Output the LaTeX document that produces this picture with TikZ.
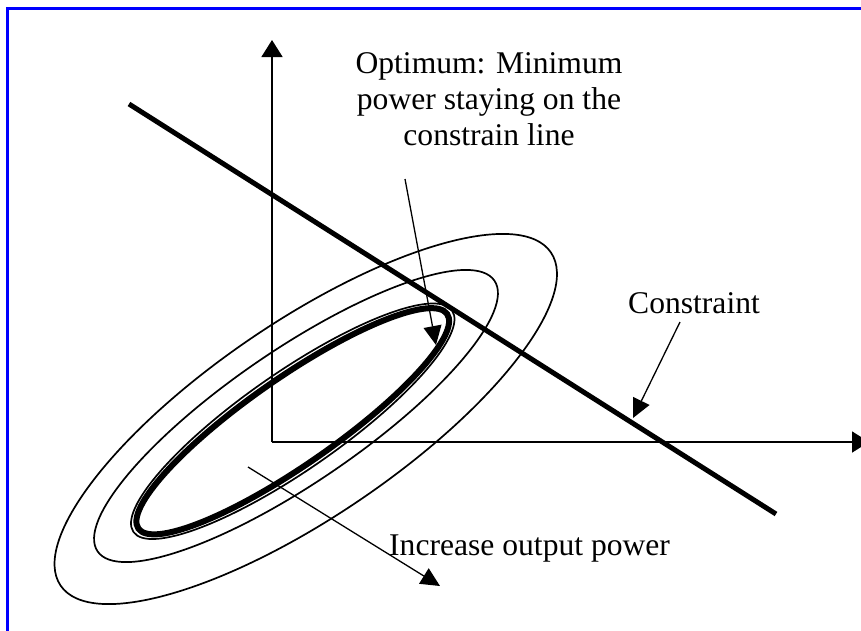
\documentclass[tikz,border=0pt]{standalone}
\usepackage{fontspec}
\setmainfont{Liberation Serif}
\usetikzlibrary{arrows.meta}
\begin{document}
\begin{tikzpicture}[x=1pt,y=-1pt,
  thinline/.style={line width=1.7pt},
  thickline/.style={line width=6pt},
  axis/.style={line width=1.7pt,-{Triangle[length=17pt,width=21pt]}},
  pointer/.style={line width=1.3pt,-{Triangle[length=19pt,width=18pt]}},
  lbl/.style={font=\fontsize{31.6}{36}\selectfont,inner sep=0pt}]
\useasboundingbox (0,0) rectangle (861,630);
\draw[blue, line width=2.2pt] (7.5,8.5) rectangle (900,700);

% level curves
\draw[thinline, rotate around={34.2:(305.75,419)}] (305.75,419) ellipse [x radius=296.4pt, y radius=97.4pt];
\draw[thinline, rotate around={34.3:(296,416)}] (296,416) ellipse [x radius=240.2pt, y radius=66.4pt];
\draw[thinline, rotate around={34.8:(292.75,421.25)}] (292.75,421.25) ellipse [x radius=194pt, y radius=48.8pt];
\draw[thickline, rotate around={34.8:(292.75,421.25)}] (292.75,421.25) ellipse [x radius=188pt, y radius=43.5pt];

% axes
\coordinate (O) at (272,442);
\coordinate (ytip) at (272,40);
\coordinate (xtip) at (869,442);
\draw[axis] (O) -- (ytip);
\draw[axis] (O) -- (xtip);

% constraint line
\coordinate (c1) at (129,104);
\coordinate (c2) at (776,514);
\draw[line width=5pt] (c1) -- (c2);

% labels
\node[lbl, align=center, anchor=base] (opt) at (489,145.5) {Optimum: Minimum\\power staying on the\\constrain line};
\node[lbl, anchor=base west] (con) at (628,313) {Constraint};
\node[lbl, anchor=base west] (inc) at (389,555) {Increase output power};

% pointers
\coordinate (optstart) at (405,179);
\coordinate (opttip) at (436,345);
\draw[pointer] (optstart) -- (opttip);
\coordinate (constart) at (680,322);
\coordinate (contip) at (633,418);
\draw[pointer] (constart) -- (contip);
\coordinate (incstart) at (248,467);
\coordinate (inctip) at (440,586);
\draw[pointer] (incstart) -- (inctip);
\end{tikzpicture}
\end{document}
